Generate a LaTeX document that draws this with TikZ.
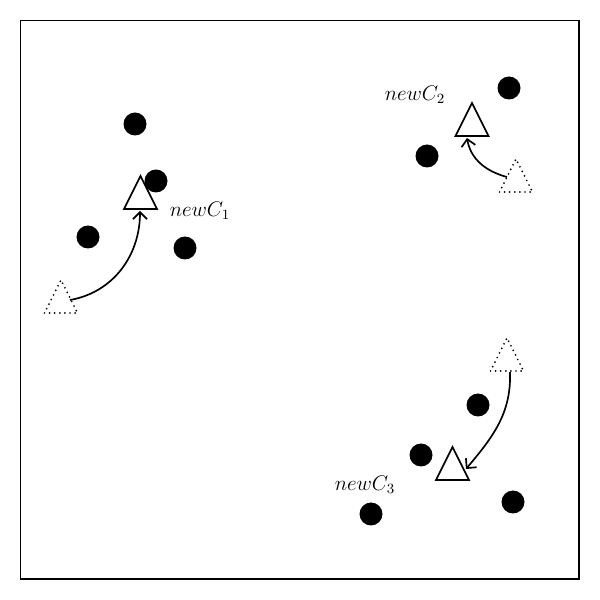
\documentclass[tikz,border=0pt]{standalone}
\usepackage{amsmath, amssymb}
\usepackage{tikz}
\usetikzlibrary{arrows.meta}

% triangle marker: #1 style, #2 base centre
\newcommand{\trimark}[2]{\draw[#1] (#2) ++(-0.33,0) -- ++(0.66,0) -- ++(-0.33,0.66) -- cycle;}

\begin{document}
\begin{tikzpicture}[
    dot/.style={circle, fill=black, inner sep=0pt, minimum size=0.46cm},
    newtri/.style={line width=0.95pt, line join=miter},
    oldtri/.style={line width=1.1pt, line cap=round, dash pattern=on 0pt off 2.9pt},
    lbl/.style={font=\fontsize{12}{14}\selectfont, inner sep=0pt},
    arr/.style={-{Straight Barb[length=1.4mm, width=2.8mm]}, line width=0.95pt}
  ]
    \useasboundingbox (0,0) rectangle (12,12);
    \draw[line width=1.1pt] (0.41,0.42) rectangle (11.58,11.59);

    % cluster 1
    \node[dot] (a1) at (2.70,9.52) {};
    \node[dot] (a2) at (3.12,8.38) {};
    \node[dot] (a3) at (1.76,7.26) {};
    \node[dot] (a4) at (3.70,7.04) {};
    \coordinate (c1new) at (2.81,7.82);
    \coordinate (c1old) at (1.22,5.74);
    \trimark{newtri}{c1new}
    \trimark{oldtri}{c1old}
    \coordinate (m1from) at (1.40,6.00);
    \coordinate (m1to) at (2.80,7.78);
    \node[lbl] (l1) at (4.00,7.78) {$newC_1$};

    % cluster 2
    \node[dot] (b1) at (10.18,10.24) {};
    \node[dot] (b2) at (8.54,8.88) {};
    \coordinate (c2new) at (9.44,9.28);
    \coordinate (c2old) at (10.32,8.16);
    \trimark{newtri}{c2new}
    \trimark{oldtri}{c2old}
    \coordinate (m2from) at (10.14,8.46);
    \coordinate (m2to) at (9.34,9.24);
    \node[lbl] (l2) at (8.30,10.10) {$newC_2$};

    % cluster 3
    \node[dot] (d1) at (9.56,3.90) {};
    \node[dot] (d2) at (8.42,2.90) {};
    \node[dot] (d3) at (7.42,1.72) {};
    \node[dot] (d4) at (10.26,1.96) {};
    \coordinate (c3new) at (9.05,2.40);
    \coordinate (c3old) at (10.14,4.58);
    \trimark{newtri}{c3new}
    \trimark{oldtri}{c3old}
    \coordinate (m3from) at (10.20,4.56);
    \coordinate (m3to) at (9.32,2.62);
    \node[lbl] (l3) at (7.30,2.30) {$newC_3$};

    \draw[arr] (m1from) to[out=10, in=-90] (m1to);
    \draw[arr] (m2from) to[out=165, in=-80] (m2to);
    \draw[arr] (m3from) to[out=-88, in=50] (m3to);
  \end{tikzpicture}
\end{document}
